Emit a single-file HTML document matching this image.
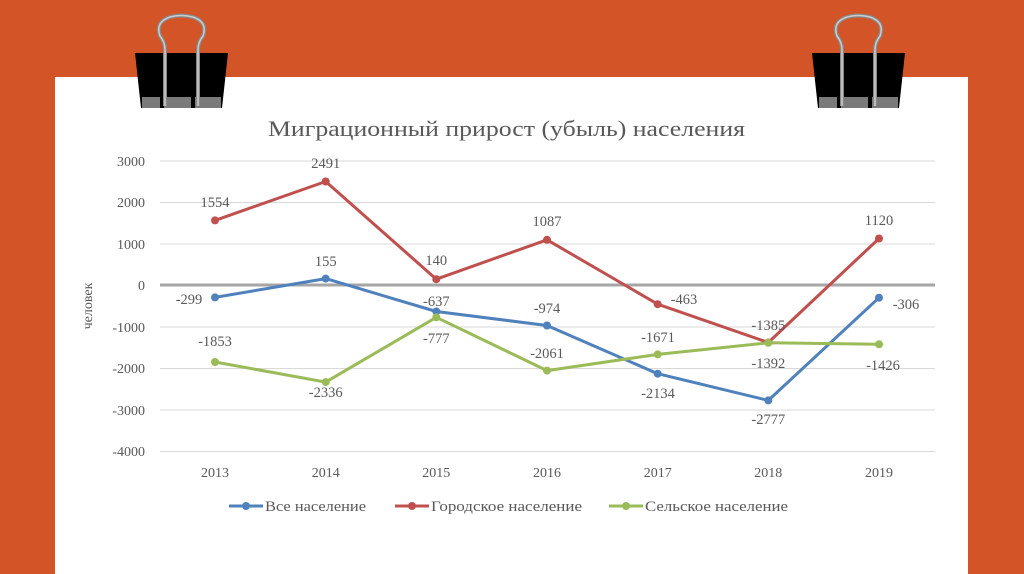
<!DOCTYPE html>
<html><head><meta charset="utf-8"><style>
html,body{margin:0;padding:0;width:1024px;height:574px;overflow:hidden;background:#D35527}
svg{display:block}
text{font-family:"Liberation Serif","DejaVu Serif",serif;fill:#595959}
</style></head><body>
<svg width="1024" height="574" viewBox="0 0 1024 574">
<rect x="0" y="0" width="1024" height="574" fill="#D35527"/>
<rect x="55" y="77" width="913" height="497" fill="#fff"/>
<g id="clip">
<path d="M135 53 L228 53 L222 108 L141 108 Z" fill="#000"/>
<rect x="142" y="97" width="79" height="11" fill="#7a7a7a"/>
<rect x="160" y="97" width="4" height="11" fill="#000"/>
<rect x="191" y="97" width="4" height="11" fill="#000"/>
<path d="M165 106 L165 50 Q165 42 160 36 Q155 22 170 17 Q181 14 193 17 Q208 22 203 36 Q198 42 198 50 L198 106" fill="none" stroke="#888" stroke-width="4"/>
<path d="M165 106 L165 50 Q165 42 160 36 Q155 22 170 17 Q181 14 193 17 Q208 22 203 36 Q198 42 198 50 L198 106" fill="none" stroke="#ccc" stroke-width="1.5"/>
</g>
<use href="#clip" transform="translate(677,0)"/>
<text x="268" y="136" font-size="22" textLength="477" lengthAdjust="spacingAndGlyphs">Миграционный прирост (убыль) населения</text>
<g stroke="#d9d9d9" stroke-width="1">
<line x1="160" x2="935" y1="161" y2="161"/><line x1="160" x2="935" y1="202.5" y2="202.5"/>
<line x1="160" x2="935" y1="244" y2="244"/><line x1="160" x2="935" y1="327" y2="327"/>
<line x1="160" x2="935" y1="368.5" y2="368.5"/><line x1="160" x2="935" y1="410" y2="410"/>
<line x1="160" x2="935" y1="451.5" y2="451.5"/>
</g>
<line x1="160" x2="935" y1="285" y2="285" stroke="#a6a6a6" stroke-width="3"/>
<g font-size="14" text-anchor="end">
<text x="145" y="166">3000</text><text x="145" y="207">2000</text><text x="145" y="249">1000</text>
<text x="145" y="290">0</text><text x="145" y="332">-1000</text><text x="145" y="373">-2000</text>
<text x="145" y="415">-3000</text><text x="145" y="456">-4000</text>
</g>
<text transform="translate(92,306) rotate(-90)" font-size="14" text-anchor="middle">человек</text>
<g font-size="14" text-anchor="middle">
<text x="215" y="477">2013</text><text x="325.7" y="477">2014</text><text x="436.3" y="477">2015</text>
<text x="547" y="477">2016</text><text x="657.7" y="477">2017</text><text x="768.3" y="477">2018</text><text x="879" y="477">2019</text>
</g>
<g fill="none" stroke-width="3" stroke-linejoin="round">
<polyline stroke="#4F81BD" points="215,297.4 325.7,278.6 436.3,311.5 547,325.5 657.7,373.7 768.3,400.4 879,297.7"/>
<polyline stroke="#C0504D" points="215,220.4 325.7,181.5 436.3,279.2 547,239.8 657.7,304.2 768.3,342.5 879,238.5"/>
<polyline stroke="#9BBB59" points="215,362 325.7,382.1 436.3,317.3 547,370.6 657.7,354.4 768.3,342.8 879,344.3"/>
</g>
<g fill="#4F81BD"><circle cx="215" cy="297.4" r="4"/><circle cx="325.7" cy="278.6" r="4"/><circle cx="436.3" cy="311.5" r="4"/><circle cx="547" cy="325.5" r="4"/><circle cx="657.7" cy="373.7" r="4"/><circle cx="768.3" cy="400.4" r="4"/><circle cx="879" cy="297.7" r="4"/></g>
<g fill="#C0504D"><circle cx="215" cy="220.4" r="4"/><circle cx="325.7" cy="181.5" r="4"/><circle cx="436.3" cy="279.2" r="4"/><circle cx="547" cy="239.8" r="4"/><circle cx="657.7" cy="304.2" r="4"/><circle cx="768.3" cy="342.5" r="4"/><circle cx="879" cy="238.5" r="4"/></g>
<g fill="#9BBB59"><circle cx="215" cy="362" r="4"/><circle cx="325.7" cy="382.1" r="4"/><circle cx="436.3" cy="317.3" r="4"/><circle cx="547" cy="370.6" r="4"/><circle cx="657.7" cy="354.4" r="4"/><circle cx="768.3" cy="342.8" r="4"/><circle cx="879" cy="344.3" r="4"/></g>
<g font-size="14.5" text-anchor="middle">
<text x="189" y="304">-299</text><text x="325.7" y="266">155</text><text x="436.3" y="306">-637</text>
<text x="547" y="313">-974</text><text x="658" y="398">-2134</text><text x="768.3" y="424">-2777</text><text x="906" y="309">-306</text>
<text x="215" y="207">1554</text><text x="325.7" y="168">2491</text><text x="436.3" y="265">140</text>
<text x="547" y="226">1087</text><text x="684" y="304">-463</text><text x="768.3" y="330">-1385</text><text x="879" y="225">1120</text>
<text x="215" y="346">-1853</text><text x="325.7" y="397">-2336</text><text x="436.3" y="343">-777</text>
<text x="547" y="358">-2061</text><text x="658" y="342">-1671</text><text x="768.3" y="368">-1392</text><text x="883" y="370">-1426</text>
</g>
<g stroke-width="3">
<line x1="229" x2="263" y1="506" y2="506" stroke="#4F81BD"/><circle cx="246" cy="506" r="4" fill="#4F81BD"/>
<line x1="395" x2="429" y1="506" y2="506" stroke="#C0504D"/><circle cx="412" cy="506" r="4" fill="#C0504D"/>
<line x1="609" x2="643" y1="506" y2="506" stroke="#9BBB59"/><circle cx="626" cy="506" r="4" fill="#9BBB59"/>
</g>
<g font-size="15">
<text x="265" y="511" textLength="101" lengthAdjust="spacingAndGlyphs">Все население</text>
<text x="431" y="511" textLength="151" lengthAdjust="spacingAndGlyphs">Городское население</text>
<text x="645" y="511" textLength="143" lengthAdjust="spacingAndGlyphs">Сельское население</text>
</g>
</svg>
</body></html>
